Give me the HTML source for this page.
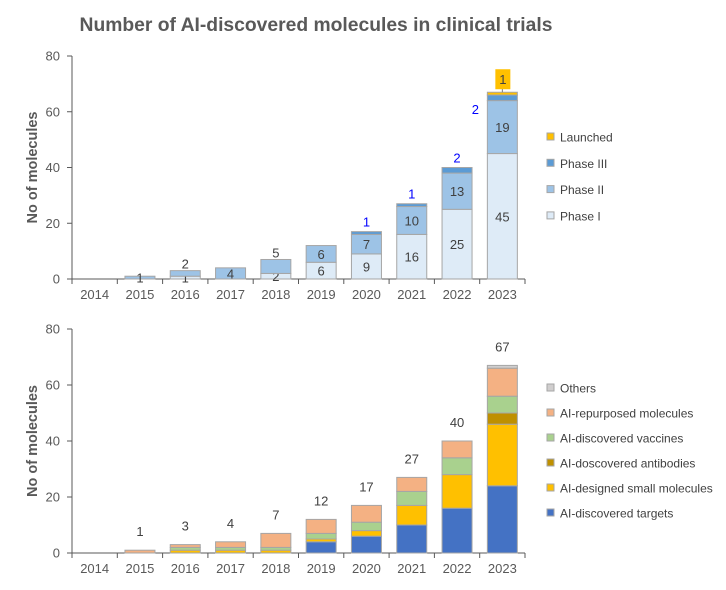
<!DOCTYPE html>
<html><head><meta charset="utf-8"><style>
body{margin:0;background:#fff;}
svg{display:block;font-family:"Liberation Sans",Calibri,sans-serif;}
</style></head><body>
<svg id="c" width="726" height="590" viewBox="0 0 726 590">
<text x="316" y="31" text-anchor="middle" font-size="19.3" font-weight="bold" fill="#595959">Number of AI-discovered molecules in clinical trials</text>
</svg>
<script>
const years=["2014","2015","2016","2017","2018","2019","2020","2021","2022","2023"];
const yTicks=[0,20,40,60,80];
const phase1=[0,0,1,0,2,6,9,16,25,45];
const phase2=[0,1,2,4,5,6,7,10,13,19];
const phase3=[0,0,0,0,0,0,1,1,2,2];
const launched=[0,0,0,0,0,0,0,0,0,1];
const targets=[0,0,0,0,0,4,6,10,16,24];
const smallMol=[0,0,1,1,1,1,2,7,12,22];
const antibodies=[0,0,0,0,0,0,0,0,0,4];
const vaccines=[0,0,1,1,1,2,3,5,6,6];
const repurposed=[0,1,1,2,5,5,6,5,6,10];
const others=[0,0,0,0,0,0,0,0,0,1];
const totals=[0,1,3,4,7,12,17,27,40,67];

const NS="http://www.w3.org/2000/svg";
const svg=document.getElementById('c');
function mk(tag,attrs,parent){const e=document.createElementNS(NS,tag);for(const k in attrs)e.setAttribute(k,attrs[k]);(parent||svg).appendChild(e);return e;}
const X0=72,X1=525,BW=30;
const band=(X1-X0)/years.length;
const xc=i=>X0+band*(i+0.5);

function panel(base,top,name,series,legendY){
  const g=mk('g',{});
  
  
  const y=v=>base-(base-top)*v/80;
  const ax=mk('line',{x1:X0,y1:top,x2:X0,y2:base,stroke:'#595959','stroke-width':1},g);
  
  
  yTicks.forEach(t=>{
    mk('line',{x1:X0-5,y1:y(t),x2:X0,y2:y(t),stroke:'#595959'},g);
    const tl=mk('text',{x:X0-12,y:y(t)+4.5,'text-anchor':'end','font-size':13,fill:'#595959'},g);
    tl.textContent=t;
    
    
  });
  const yt=mk('text',{transform:`translate(37,${(base+top)/2}) rotate(-90)`,'text-anchor':'middle','font-size':14.5,'font-weight':'bold',fill:'#595959'},g);
  yt.textContent='No of molecules';
  
  
  const xa=mk('line',{x1:X0,y1:base,x2:X1,y2:base,stroke:'#595959'},g);
  
  
  for(let i=0;i<=years.length;i++) mk('line',{x1:X0+band*i,y1:base,x2:X0+band*i,y2:base+5,stroke:'#595959'},g);
  years.forEach((yr,i)=>{
    const t=mk('text',{x:xc(i),y:base+20,'text-anchor':'middle','font-size':13,fill:'#595959'},g);
    t.textContent=yr;
    
    
  });
  const cum=years.map(()=>0);
  series.forEach(s=>{
    s.data.forEach((v,i)=>{
      if(!v)return;
      const below=cum[i];
      const y0=y(cum[i]),y1=y(cum[i]+v);
      const r=mk('rect',{x:xc(i)-BW/2,y:y1,width:BW,height:y0-y1,fill:s.color,stroke:'#a6a6a6','stroke-width':1},g);
      
      
      if(s.label){
        const above=(y0-y1)<16 && below>0;
        const t=mk('text',{x:xc(i),y:above?y1-2:(y0+y1)/2+5,'text-anchor':'middle','font-size':13,fill:'#404040'},g);
        t.textContent=v;
        
        
      }
      cum[i]+=v;
    });
  });
  series.slice().reverse().forEach((s,k)=>{
    const ly=legendY+k*(name==='top-chart'?26.3:25);
    const r=mk('rect',{x:547,y:ly-4,width:7,height:7,fill:s.color,stroke:'#a6a6a6'},g);
    
    
    const t=mk('text',{x:560,y:ly+4.5,'font-size':12,fill:'#404040'},g);
    t.textContent=s.name;
    
    
  });
  return {y,cum};
}

const top1=panel(279,56,'top-chart',[
  {key:'phase-1',name:'Phase I',data:phase1,color:'#DEEBF7',label:true},
  {key:'phase-2',name:'Phase II',data:phase2,color:'#9DC3E6',label:true},
  {key:'phase-3',name:'Phase III',data:phase3,color:'#5B9BD5'},
  {key:'launched',name:'Launched',data:launched,color:'#FFC000'}
],137);
phase3.forEach((v,i)=>{
  if(!v)return;
  const last=i===years.length-1;
  const top=top1.y(phase1[i]+phase2[i]+v);
  const t=mk('text',{x:last?xc(i)-27:xc(i),y:last?top+19:top-5,'text-anchor':'middle','font-size':13,fill:'#0000FF'});
  t.textContent=v;
  
  
});
launched.forEach((v,i)=>{
  if(!v)return;
  const top=top1.y(phase1[i]+phase2[i]+phase3[i]+v);
  mk('line',{x1:xc(i),y1:top,x2:xc(i),y2:top-8,stroke:'#7f7f7f'});
  const b=mk('rect',{x:xc(i)-7,y:top-23,width:15,height:20,fill:'#FFC000'});
  
  
  const t=mk('text',{x:xc(i)+0.5,y:top-8,'text-anchor':'middle','font-size':13,fill:'#404040'});
  t.textContent=v;
  
  
});

const bot=panel(553,329,'bottom-chart',[
  {key:'targets',name:'AI-discovered targets',data:targets,color:'#4472C4'},
  {key:'small-molecules',name:'AI-designed small molecules',data:smallMol,color:'#FFC000'},
  {key:'antibodies',name:'AI-doscovered antibodies',data:antibodies,color:'#BF9000'},
  {key:'vaccines',name:'AI-discovered vaccines',data:vaccines,color:'#A9D18E'},
  {key:'repurposed',name:'AI-repurposed molecules',data:repurposed,color:'#F4B183'},
  {key:'others',name:'Others',data:others,color:'#D0CECE'}
],388);
totals.forEach((v,i)=>{
  if(!v)return;
  const t=mk('text',{x:xc(i),y:bot.y(v)-14,'text-anchor':'middle','font-size':13,fill:'#404040'});
  t.textContent=v;
  
  
});
</script>
</body></html>
